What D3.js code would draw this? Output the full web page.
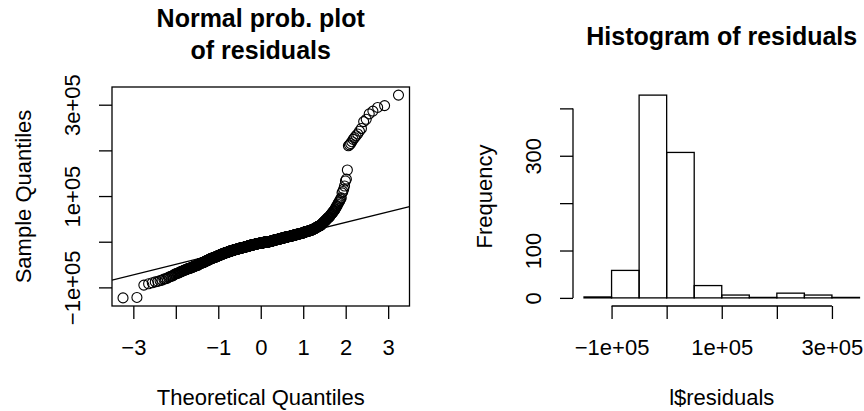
<!DOCTYPE html>
<html>
<head>
<meta charset="utf-8">
<script src="https://cdn.jsdelivr.net/npm/d3@7"></script>
<style>
  html, body { margin: 0; padding: 0; background: #fff; }
  svg { display: block; }
  text { font-family: "Liberation Sans", Arial, Helvetica, sans-serif; fill: #000; }
</style>
</head>
<body>
<svg id="chart" width="864" height="411"></svg>
<script>
// Sorted model residuals, in thousands, with how many observations share each value
const residualK = [
  -123, -122, -95, -92, -90, -88, -87, -85, -84, -82,
  -81, -80, -78, -77, -76, -75, -74, -72, -71, -70,
  -69, -68, -67, -66, -65, -64, -63, -62, -61, -60,
  -59, -58, -57, -56, -55, -54, -53, -52, -51, -49,
  -48, -47, -46, -45, -44, -43, -42, -41, -40, -39,
  -38, -37, -36, -35, -34, -33, -32, -31, -30, -29,
  -28, -27, -26, -25, -24, -23, -22, -21, -20, -19,
  -18, -17, -16, -15, -14, -13, -12, -11, -10, -9,
  -8, -7, -6, -5, -4, -3, -2, -1, -0.5, 0.5,
  1, 2, 3, 4, 5, 6, 7, 8, 9, 10,
  11, 12, 13, 14, 15, 16, 17, 18, 19, 20,
  21, 22, 23, 24, 25, 26, 27, 28, 29, 30,
  31, 32, 33, 34, 35, 36, 37, 38, 39, 40,
  41, 42, 43, 44, 45, 46, 47, 48, 49, 51,
  52, 53, 54, 55, 57, 58, 60, 61, 62, 64,
  65, 67, 68, 70, 72, 75, 77, 79, 82, 85,
  87, 90, 93, 96, 107, 110, 115, 122, 133, 137,
  157, 210, 212, 215, 219, 224, 228, 232, 236, 242,
  248, 263, 268, 280, 286, 294, 298, 321
];
const residualN = [
  1, 1, 1, 1, 1, 1, 1, 1, 1, 1,
  1, 1, 1, 1, 1, 1, 1, 1, 1, 1,
  2, 1, 1, 2, 1, 2, 1, 2, 2, 2,
  2, 3, 2, 3, 2, 3, 3, 2, 4, 3,
  3, 4, 3, 4, 3, 3, 4, 3, 3, 3,
  4, 5, 5, 5, 5, 5, 5, 5, 5, 5,
  5, 7, 7, 7, 7, 7, 7, 8, 10, 10,
  10, 10, 10, 12, 13, 12, 13, 12, 13, 12,
  13, 14, 14, 14, 20, 20, 18, 22, 16, 6,
  12, 13, 12, 13, 12, 13, 12, 13, 12, 13,
  12, 13, 10, 10, 10, 10, 10, 9, 6, 6,
  6, 7, 6, 6, 6, 5, 3, 3, 3, 3,
  2, 3, 3, 3, 2, 3, 1, 1, 2, 1,
  1, 1, 1, 2, 1, 1, 1, 1, 2, 1,
  1, 2, 1, 1, 1, 1, 1, 1, 1, 1,
  1, 1, 1, 1, 1, 1, 1, 1, 1, 1,
  1, 1, 1, 1, 1, 1, 1, 1, 1, 1,
  1, 1, 1, 1, 1, 1, 1, 1, 1, 1,
  1, 1, 1, 1, 1, 1, 1, 1
];

// Histogram breaks and axis ticks
const histBreaks = [-150000, -100000, -50000, 0, 50000, 100000, 150000, 200000, 250000, 300000, 350000];
const qqXTicks = [-3, -2, -1, 0, 1, 2, 3];
const qqXLabels = ["\u22123", "", "\u22121", "0", "1", "2", "3"];
const qqYTicks = [-100000, 0, 100000, 200000, 300000];
const qqYLabels = ["\u22121e+05", "", "1e+05", "", "3e+05"];
const histXTicks = [-100000, 0, 100000, 200000, 300000];
const histXLabels = ["\u22121e+05", "", "1e+05", "", "3e+05"];
const histYTicks = [0, 100, 200, 300, 400];
const histYLabels = ["0", "100", "", "300", ""];

// Expand to the full sorted residual vector
const residuals = [];
residualK.forEach((v, i) => { for (let k = 0; k < residualN[i]; k++) residuals.push(v * 1000); });
const n = residuals.length;

// Inverse standard normal CDF (Acklam's rational approximation)
function qnorm(p) {
  const a = [-3.969683028665376e+01, 2.209460984245205e+02, -2.759285104469687e+02, 1.383577518672690e+02, -3.066479806614716e+01, 2.506628277459239e+00];
  const b = [-5.447609879822406e+01, 1.615858368580409e+02, -1.556989798598866e+02, 6.680131188771972e+01, -1.328068155288572e+01];
  const c = [-7.784894002430293e-03, -3.223964580411365e-01, -2.400758277161838e+00, -2.549732539343734e+00, 4.374664141464968e+00, 2.938163982698783e+00];
  const d = [7.784695709041462e-03, 3.224671290700398e-01, 2.445134137142996e+00, 3.754408661907416e+00];
  const plow = 0.02425;
  if (p < plow) {
    const q = Math.sqrt(-2 * Math.log(p));
    return (((((c[0]*q+c[1])*q+c[2])*q+c[3])*q+c[4])*q+c[5]) / ((((d[0]*q+d[1])*q+d[2])*q+d[3])*q+1);
  }
  if (p > 1 - plow) {
    const q = Math.sqrt(-2 * Math.log(1 - p));
    return -(((((c[0]*q+c[1])*q+c[2])*q+c[3])*q+c[4])*q+c[5]) / ((((d[0]*q+d[1])*q+d[2])*q+d[3])*q+1);
  }
  const q = p - 0.5, r = q * q;
  return (((((a[0]*r+a[1])*r+a[2])*r+a[3])*r+a[4])*r+a[5])*q / (((((b[0]*r+b[1])*r+b[2])*r+b[3])*r+b[4])*r+1);
}

// Theoretical quantiles at plotting positions (i - 0.5) / n
const qqPoints = residuals.map((y, i) => ({ x: qnorm((i + 0.5) / n), y }));

// Reference line through the first and third quartiles
const q1 = d3.quantileSorted(residuals, 0.25), q3 = d3.quantileSorted(residuals, 0.75);
const z1 = qnorm(0.25), z3 = qnorm(0.75);
const slope = (q3 - q1) / (z3 - z1);
const intercept = q1 - slope * z1;

const svg = d3.select("#chart");
const pad = (ext) => { const s = (ext[1] - ext[0]) * 0.04; return [ext[0] - s, ext[1] + s]; };

const tickLen = 13, lw = 1.3;
const FS = 22, TFS = 25;

// ---------- Normal probability plot ----------
const L = { x0: 112, x1: 409.5, y0: 87, y1: 306 };
const qx = d3.scaleLinear().domain(pad(d3.extent(qqPoints, d => d.x))).range([L.x0, L.x1]);
const qy = d3.scaleLinear().domain(pad(d3.extent(residuals))).range([L.y1, L.y0]);

svg.append("clipPath").attr("id", "clipL")
  .append("rect").attr("x", L.x0).attr("y", L.y0).attr("width", L.x1 - L.x0).attr("height", L.y1 - L.y0);

svg.append("g").selectAll("circle").data(qqPoints).join("circle")
  .attr("cx", d => qx(d.x)).attr("cy", d => qy(d.y)).attr("r", 5)
  .attr("fill", "none").attr("stroke", "#000").attr("stroke-width", 1.1);

const xd = qx.domain();
svg.append("line").attr("clip-path", "url(#clipL)")
  .attr("x1", qx(xd[0])).attr("y1", qy(intercept + slope * xd[0]))
  .attr("x2", qx(xd[1])).attr("y2", qy(intercept + slope * xd[1]))
  .attr("stroke", "#000").attr("stroke-width", lw);

svg.append("rect").attr("x", L.x0).attr("y", L.y0).attr("width", L.x1 - L.x0).attr("height", L.y1 - L.y0)
  .attr("fill", "none").attr("stroke", "#000").attr("stroke-width", lw);

const gLx = svg.append("g").attr("transform", `translate(0,${L.y1})`)
  .call(d3.axisBottom(qx).tickValues(qqXTicks).tickSize(tickLen).tickPadding(0).tickFormat((d, i) => qqXLabels[i]));
gLx.select(".domain").remove();
gLx.selectAll("line").attr("stroke-width", lw);
gLx.selectAll("text").attr("y", 0).attr("dy", null).attr("transform", "translate(0,49)")
  .style("font-size", FS + "px").attr("font-family", null);

const gLy = svg.append("g").attr("transform", `translate(${L.x0},0)`)
  .call(d3.axisLeft(qy).tickValues(qqYTicks).tickSize(tickLen).tickFormat((d, i) => qqYLabels[i]));
gLy.select(".domain").remove();
gLy.selectAll("line").attr("stroke-width", lw);
gLy.selectAll("text").attr("x", null).attr("dy", null).attr("text-anchor", "middle")
  .attr("transform", "translate(-32,0) rotate(-90)").style("font-size", FS + "px").attr("font-family", null);

svg.append("text").attr("x", (L.x0 + L.x1) / 2).attr("y", 27).attr("text-anchor", "middle")
  .style("font-size", TFS + "px").style("font-weight", "bold").text("Normal prob. plot");
svg.append("text").attr("x", (L.x0 + L.x1) / 2).attr("y", 59).attr("text-anchor", "middle")
  .style("font-size", TFS + "px").style("font-weight", "bold").text("of residuals");
svg.append("text").attr("x", (L.x0 + L.x1) / 2).attr("y", 405).attr("text-anchor", "middle")
  .style("font-size", FS + "px").text("Theoretical Quantiles");
svg.append("text").attr("transform", `translate(31,${(L.y0 + L.y1) / 2}) rotate(-90)`).attr("text-anchor", "middle")
  .style("font-size", FS + "px").text("Sample Quantiles");

// ---------- Histogram ----------
const bins = d3.bin().domain([histBreaks[0], histBreaks[histBreaks.length - 1]]).thresholds(histBreaks.slice(1, -1))(residuals);
const R = { x0: 573, x1: 870.5, y0: 87, y1: 306 };
const hx = d3.scaleLinear().domain(pad([histBreaks[0], histBreaks[histBreaks.length - 1]])).range([R.x0, R.x1]);
const hy = d3.scaleLinear().domain(pad([0, d3.max(bins, b => b.length)])).range([R.y1, R.y0]);

svg.append("g").selectAll("rect").data(bins).join("rect")
  .attr("x", b => hx(b.x0)).attr("width", b => hx(b.x1) - hx(b.x0))
  .attr("y", b => hy(b.length)).attr("height", b => hy(0) - hy(b.length))
  .attr("fill", "none").attr("stroke", "#000").attr("stroke-width", lw);

const gRx = svg.append("g").attr("transform", `translate(0,${R.y1})`)
  .call(d3.axisBottom(hx).tickValues(histXTicks).tickSizeOuter(0).tickSize(tickLen).tickPadding(0).tickFormat((d, i) => histXLabels[i]));
gRx.select(".domain").attr("d", `M${hx(histXTicks[0])},0H${hx(histXTicks[histXTicks.length - 1])}`).attr("stroke-width", lw);
gRx.selectAll("line").attr("stroke-width", lw);
gRx.selectAll("text").attr("y", 0).attr("dy", null).attr("transform", "translate(0,49)")
  .style("font-size", FS + "px").attr("font-family", null);

const gRy = svg.append("g").attr("transform", `translate(${R.x0},0)`)
  .call(d3.axisLeft(hy).tickValues(histYTicks).tickSize(tickLen).tickFormat((d, i) => histYLabels[i]));
gRy.select(".domain").attr("d", `M0,${hy(histYTicks[0])}V${hy(histYTicks[histYTicks.length - 1])}`).attr("stroke-width", lw);
gRy.selectAll("line").attr("stroke-width", lw);
gRy.selectAll("text").attr("x", null).attr("dy", null).attr("text-anchor", "middle")
  .attr("transform", "translate(-32,0) rotate(-90)").style("font-size", FS + "px").attr("font-family", null);

svg.append("text").attr("x", (R.x0 + R.x1) / 2).attr("y", 45).attr("text-anchor", "middle")
  .style("font-size", TFS + "px").style("font-weight", "bold").text("Histogram of residuals");
svg.append("text").attr("x", (R.x0 + R.x1) / 2).attr("y", 405).attr("text-anchor", "middle")
  .style("font-size", FS + "px").text("l$residuals");
svg.append("text").attr("transform", `translate(492,${(R.y0 + R.y1) / 2}) rotate(-90)`).attr("text-anchor", "middle")
  .style("font-size", FS + "px").text("Frequency");
</script>
</body>
</html>
